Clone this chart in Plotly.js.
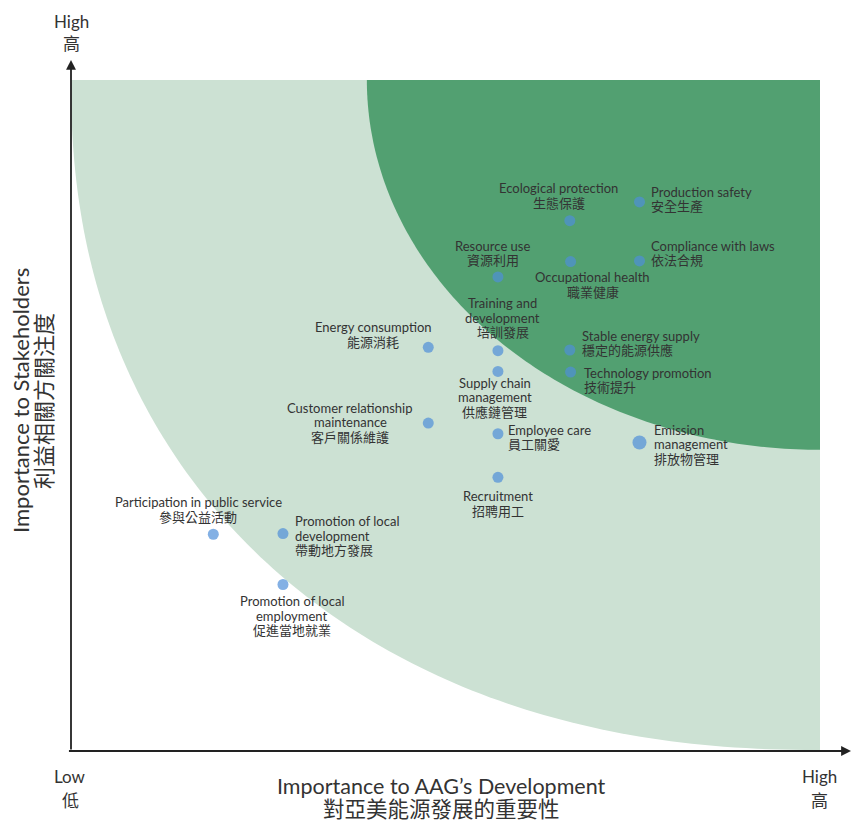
<!DOCTYPE html>
<html>
<head>
<meta charset="utf-8">
<script src="https://cdn.plot.ly/plotly-3.0.1.min.js"></script>
<style>
  html, body { margin: 0; padding: 0; background: #ffffff; }
  #chart { width: 852px; height: 823px; }
</style>
</head>
<body>
<div id="chart"></div>
<script>
// Materiality matrix: importance to the company (x) vs importance to stakeholders (y), scale 0–10
const topicsEn = [
  "Production safety",
  "Ecological protection",
  "Compliance with laws",
  "Occupational health",
  "Resource use",
  "Energy consumption",
  "Training and|development",
  "Stable energy supply",
  "Supply chain|management",
  "Technology promotion",
  "Customer relationship|maintenance",
  "Employee care",
  "Emission|management",
  "Recruitment",
  "Participation in public service",
  "Promotion of local|development",
  "Promotion of local|employment"
];
const topicsZh = [
  "安全生產", "生態保護", "依法合規", "職業健康", "資源利用", "能源消耗",
  "培訓發展", "穩定的能源供應", "供應鏈管理", "技術提升", "客戶關係維護",
  "員工關愛", "排放物管理", "招聘用工", "參與公益活動", "帶動地方發展", "促進當地就業"
];
const devImportance = [7.59, 6.66, 7.59, 6.67, 5.70, 4.77, 5.70, 6.66, 5.70, 6.67, 4.77, 5.70, 7.59, 5.70, 1.90, 2.83, 2.83];
const stakeholderImportance = [8.18, 7.90, 7.30, 7.29, 7.06, 6.01, 5.96, 5.97, 5.65, 5.64, 4.88, 4.72, 4.59, 4.07, 3.22, 3.23, 2.47];

// Axis end labels and titles
const lowLabel = ["Low", "低"];
const highLabel = ["High", "高"];
const xTitle = ["Importance to AAG\u2019s Development", "對亞美能源發展的重要性"];
const yTitle = ["Importance to Stakeholders", "利益相關方關注度"];

// Label placement around each marker (pixel offsets; dy is upward)
const labelPlacement = [
  {a: "left", dx: 10, dy: 3},
  {a: "center", dx: -11, dy: 25},
  {a: "left", dx: 10, dy: 8},
  {a: "center", dx: 22, dy: -23},
  {a: "center", dx: -5, dy: 24},
  {a: "center", dx: -55, dy: 13},
  {a: "center", dx: 5, dy: 33},
  {a: "left", dx: 10, dy: 7},
  {a: "center", dx: -3, dy: -26},
  {a: "left", dx: 11, dy: -8},
  {a: "center", dx: -78, dy: 1},
  {a: "left", dx: 8, dy: -3},
  {a: "left", dx: 13, dy: -2},
  {a: "center", dx: 0, dy: -26},
  {a: "center", dx: -15, dy: 25},
  {a: "left", dx: 10, dy: -2},
  {a: "center", dx: 9, dy: -31}
];
const markerSizes = topicsEn.map(t => t.startsWith("Emission") ? 14 : 11);

const FONT = "Lato, 'Noto Sans CJK TC', sans-serif";
const TEXT = "#333333";
const LINE_GAP = 14.5;

// Zone boundaries are drawn as curves anchored at the top-right corner (10, 10)
function cornerCurve(rx, ry, p, n) {
  let d = "M 10,10";
  for (let i = 0; i <= n; i++) {
    const t = (Math.PI / 2) * i / n;
    const c = Math.pow(Math.cos(t), 2 / p);
    const s = Math.pow(Math.sin(t), 2 / p);
    d += " L " + (10 - rx * c).toFixed(4) + "," + (10 - ry * s).toFixed(4);
  }
  return d + " Z";
}

const shapes = [
  {type: "path", xref: "x", yref: "y", layer: "below", path: cornerCurve(10, 10, 2.2, 120),
   fillcolor: "#cce1d3", line: {width: 0}},
  {type: "path", xref: "x", yref: "y", layer: "below", path: cornerCurve(6.05, 5.52, 2, 120),
   fillcolor: "#52a071", line: {width: 0}}
];

const annotations = [];
topicsEn.forEach((en, i) => {
  const lines = en.split("|").concat([topicsZh[i]]);
  const pl = labelPlacement[i];
  const n = lines.length;
  lines.forEach((ln, k) => {
    annotations.push({
      x: devImportance[i], y: stakeholderImportance[i], xref: "x", yref: "y",
      text: ln, showarrow: false,
      xanchor: pl.a, yanchor: "middle", align: pl.a,
      xshift: pl.dx, yshift: pl.dy + ((n - 1) / 2 - k) * LINE_GAP,
      font: {family: FONT, size: 13, color: TEXT}
    });
  });
});

// Axis arrows
annotations.push({
  xref: "paper", yref: "paper", x: 0, y: 1.03, ax: 0, ay: 691, axref: "pixel", ayref: "pixel",
  text: "", showarrow: true, arrowhead: 2, arrowsize: 1.1, arrowwidth: 1.8, arrowcolor: "#222222", standoff: 0
});
annotations.push({
  xref: "paper", yref: "paper", x: 1.058, y: -0.0015, ax: -796, ay: 0, axref: "pixel", ayref: "pixel",
  text: "", showarrow: true, arrowhead: 2, arrowsize: 1.1, arrowwidth: 1.8, arrowcolor: "#222222", standoff: 0
});

// Stacked two-line labels; vertical positions given in page pixels (plot top sits at 80 px)
function stack(x, yTop, lines, size, xanchor, gap) {
  lines.forEach((ln, k) => {
    annotations.push({
      xref: "paper", yref: "paper", x: x, y: 1, yshift: -(yTop + k * gap - 80),
      text: ln, showarrow: false, xanchor: xanchor, yanchor: "middle",
      font: {family: FONT, size: size, color: TEXT}
    });
  });
}
stack(0, 21, highLabel, 17, "center", 22);
stack(-0.001, 776, lowLabel, 17, "center", 24);
stack(0.999, 776, highLabel, 17, "center", 24);
stack(0.495, 786, xTitle, 21.5, "center", 23);

yTitle.forEach((ln, k) => {
  annotations.push({
    xref: "paper", yref: "paper", x: 0, y: 0.5, xshift: -(71 - (20 + k * 23)), yshift: 14,
    text: ln, showarrow: false, textangle: -90, xanchor: "center", yanchor: "middle",
    font: {family: FONT, size: 22, color: TEXT}
  });
});

const trace = {
  type: "scatter", mode: "markers",
  x: devImportance, y: stakeholderImportance,
  text: topicsEn.map((t, i) => t.replace("|", " ") + " " + topicsZh[i]),
  hoverinfo: "text",
  marker: {color: "#4f8fd8", size: markerSizes, line: {width: 0}}
};

const layout = {
  width: 852, height: 823,
  margin: {l: 71, r: 32, t: 80, b: 73, pad: 0},
  paper_bgcolor: "#ffffff", plot_bgcolor: "#ffffff",
  showlegend: false,
  xaxis: {range: [0, 10], showgrid: false, zeroline: false, showticklabels: false, showline: false, ticks: "", fixedrange: true},
  yaxis: {range: [0, 10], showgrid: false, zeroline: false, showticklabels: false, showline: false, ticks: "", fixedrange: true},
  shapes: shapes,
  annotations: annotations
};

Plotly.newPlot("chart", [trace], layout, {displayModeBar: false, staticPlot: true});
</script>
</body>
</html>
